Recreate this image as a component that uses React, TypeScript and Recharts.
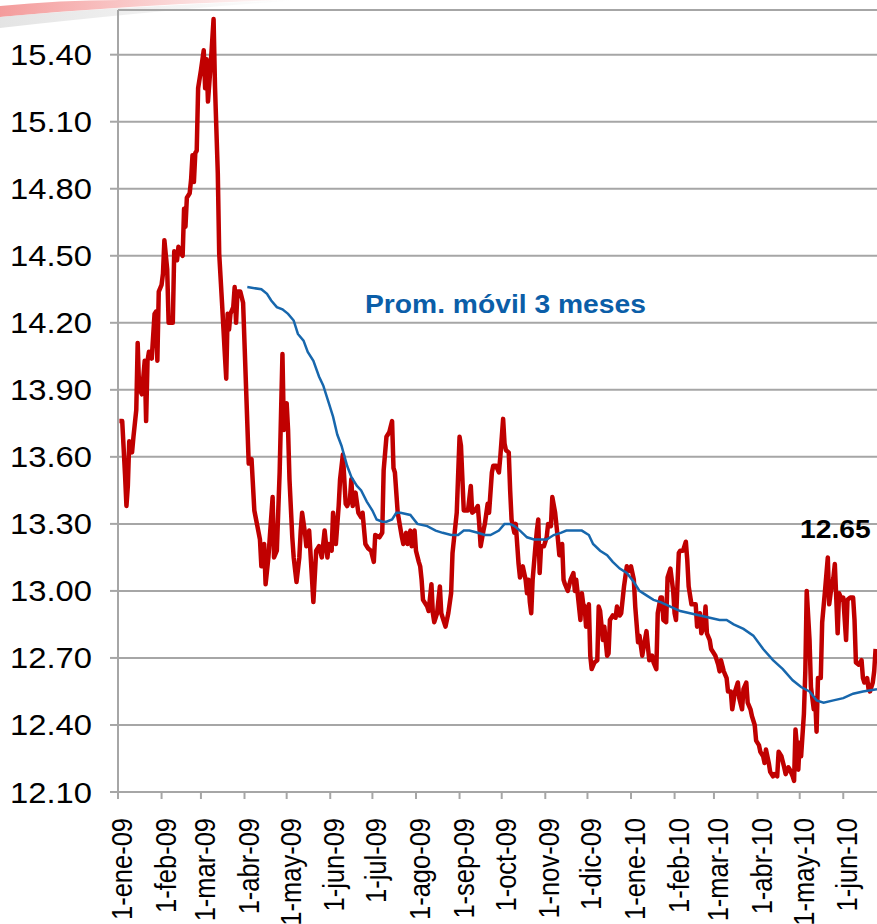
import React from 'react';
import { LineChart, Line, XAxis, YAxis, CartesianGrid } from 'recharts';

// días desde el 1-ene-09 y valor del tipo de cambio
const spotDays = [
  1, 3, 5, 6, 7, 8, 10, 11, 13, 14, 15, 17, 19, 20, 21, 22, 24, 26, 27, 28, 29, 31, 32, 33, 35, 36, 39, 40,
  42, 43, 45, 46, 47, 48, 49, 51, 52, 53, 54, 55, 56, 57, 59, 61, 62, 63, 64, 66, 68, 69, 71, 72, 74, 76, 77,
  78, 79, 80, 82, 83, 84, 85, 87, 89, 93, 95, 97, 101, 102, 104, 105, 107, 110, 111, 113, 115, 117, 118, 120,
  121, 122, 124, 125, 127, 129, 130, 131, 133, 134, 136, 139, 141, 143, 145, 147, 149, 150, 152, 153, 155,
  157, 158, 160, 162, 163, 165, 166, 167, 169, 171, 173, 174, 176, 178, 180, 182, 183, 186, 188, 189, 191,
  193, 195, 196, 197, 199, 202, 203, 205, 206, 208, 209, 211, 212, 214, 215, 216, 217, 220, 221, 223, 224,
  225, 227, 229, 230, 231, 233, 235, 237, 238, 240, 241, 243, 244, 246, 249, 251, 252, 254, 256, 257, 258,
  260, 261, 263, 264, 266, 267, 269, 271, 272, 274, 275, 276, 278, 279, 280, 282, 283, 285, 286, 288, 290,
  291, 292, 293, 294, 295, 297, 298, 299, 300, 301, 303, 305, 306, 308, 309, 311, 312, 313, 314, 316, 317,
  318, 320, 322, 324, 325, 326, 327, 329, 330, 331, 332, 333, 335, 336, 337, 339, 341, 342, 343, 345, 346,
  348, 349, 350, 352, 354, 355, 357, 358, 360, 362, 364, 365, 367, 368, 370, 371, 373, 374, 376, 377, 378,
  380, 381, 383, 384, 386, 387, 388, 390, 391, 393, 395, 396, 397, 399, 400, 402, 404, 405, 406, 408, 409,
  411, 412, 414, 415, 417, 418, 419, 421, 422, 424, 425, 427, 428, 429, 431, 433, 434, 436, 437, 439, 441,
  442, 444, 445, 447, 448, 450, 451, 453, 454, 456, 457, 459, 460, 461, 463, 464, 466, 467, 469, 470, 472,
  474, 475, 477, 478, 480, 481, 482, 483, 484, 485, 486, 488, 489, 490, 492, 493, 495, 496, 497, 498, 500,
  501, 503, 505, 506, 507, 509, 510, 511, 512, 513, 515, 516, 518, 519, 521, 523, 524, 525, 527, 529, 530,
  531, 533, 534, 535, 537, 538, 539,
];
const spotValues = [
  13.76, 13.76, 13.52, 13.38, 13.47, 13.67, 13.62, 13.69, 13.81, 14.11, 13.91, 13.88, 14.03, 13.76, 14.03,
  14.07, 14.04, 14.24, 14.25, 14.03, 14.34, 14.37, 14.42, 14.57, 14.44, 14.2, 14.2, 14.52, 14.48, 14.54,
  14.51, 14.5, 14.71, 14.63, 14.76, 14.78, 14.84, 14.95, 14.83, 14.96, 14.97, 15.25, 15.33, 15.42, 15.25,
  15.38, 15.19, 15.36, 15.56, 15.26, 14.87, 14.51, 14.29, 14.06, 13.95, 14.24, 14.17, 14.24, 14.27, 14.36,
  14.2, 14.34, 14.34, 14.29, 13.57, 13.59, 13.36, 13.23, 13.11, 13.21, 13.03, 13.15, 13.42, 13.15, 13.18,
  13.53, 14.06, 13.72, 13.84, 13.72, 13.5, 13.24, 13.15, 13.04, 13.15, 13.27, 13.35, 13.26, 13.2, 13.27,
  12.95, 13.18, 13.2, 13.15, 13.27, 13.15, 13.21, 13.18, 13.35, 13.21, 13.38, 13.5, 13.61, 13.39, 13.38,
  13.41, 13.5, 13.38, 13.44, 13.35, 13.33, 13.35, 13.21, 13.19, 13.18, 13.13, 13.25, 13.24, 13.26, 13.54,
  13.69, 13.71, 13.76, 13.55, 13.53, 13.35, 13.24, 13.21, 13.26, 13.21, 13.27, 13.2, 13.27, 13.18, 13.13,
  13.11, 13.05, 12.96, 12.93, 12.91, 13.03, 12.9, 12.86, 12.9, 13.02, 12.9, 12.88, 12.84, 12.9, 12.99,
  13.17, 13.29, 13.35, 13.69, 13.65, 13.36, 13.36, 13.47, 13.35, 13.36, 13.38, 13.3, 13.2, 13.27, 13.3,
  13.39, 13.35, 13.53, 13.56, 13.56, 13.53, 13.6, 13.77, 13.66, 13.63, 13.62, 13.45, 13.32, 13.26, 13.3,
  13.12, 13.06, 13.11, 13.05, 12.99, 13.05, 12.95, 12.9, 13.05, 13.2, 13.27, 13.32, 13.08, 13.2, 13.2,
  13.24, 13.3, 13.29, 13.42, 13.35, 13.29, 13.23, 13.16, 13.21, 13.05, 13.03, 13.0, 13.05, 13.08, 13.0,
  13.05, 12.99, 12.87, 12.99, 12.94, 12.93, 12.84, 12.94, 12.71, 12.65, 12.68, 12.69, 12.93, 12.91, 12.78,
  12.84, 12.71, 12.72, 12.87, 12.89, 12.88, 12.93, 12.89, 12.9, 13.02, 13.11, 13.09, 13.11, 13.05, 12.93,
  12.77, 12.8, 12.71, 12.75, 12.82, 12.75, 12.69, 12.71, 12.68, 12.65, 12.9, 12.97, 12.97, 12.87, 12.86,
  13.06, 13.1, 13.0, 12.9, 12.87, 13.17, 13.18, 13.18, 13.22, 13.14, 13.02, 12.94, 12.94, 12.94, 12.84,
  12.9, 12.81, 12.84, 12.93, 12.81, 12.78, 12.74, 12.72, 12.71, 12.67, 12.64, 12.69, 12.64, 12.61, 12.55,
  12.55, 12.47, 12.55, 12.59, 12.52, 12.47, 12.56, 12.59, 12.5, 12.47, 12.44, 12.4, 12.33, 12.31, 12.28,
  12.26, 12.23, 12.29, 12.23, 12.19, 12.17, 12.18, 12.17, 12.28, 12.26, 12.21, 12.18, 12.21, 12.2, 12.17,
  12.15, 12.38, 12.31, 12.2, 12.32, 12.26, 12.45, 12.64, 13.0, 12.78, 12.57, 12.47, 12.52, 12.37, 12.61,
  12.61, 12.86, 13.0, 13.15, 12.94, 12.99, 13.06, 13.12, 12.97, 12.81, 12.99, 12.96, 12.97, 12.78, 12.96,
  12.97, 12.97, 12.87, 12.68, 12.67, 12.69, 12.61, 12.59, 12.61, 12.56, 12.55, 12.59, 12.64, 12.74,
];

// promedio móvil de 3 meses
const maDays = [
  92, 102, 106, 109, 113, 117, 121, 125, 128, 132, 135, 139, 143, 146, 150, 153, 156, 159, 163, 166, 170,
  173, 177, 181, 184, 188, 191, 195, 198, 201, 208, 213, 220, 226, 231, 237, 242, 246, 250, 256, 261, 265,
  271, 275, 279, 282, 286, 291, 296, 300, 305, 310, 315, 319, 325, 330, 335, 338, 343, 348, 352, 357, 362,
  367, 371, 376, 381, 386, 393, 400, 407, 414, 421, 428, 433, 438, 445, 452, 459, 466, 473, 480, 486, 492,
  497, 502, 509, 516, 523, 530, 540,
];
const maValues = [
  14.36, 14.35, 14.33, 14.3, 14.27, 14.26, 14.24, 14.21, 14.15, 14.12, 14.07, 14.03, 13.96, 13.92, 13.84,
  13.78, 13.7, 13.65, 13.56, 13.51, 13.47, 13.45, 13.4, 13.36, 13.32, 13.31, 13.31, 13.32, 13.35, 13.35,
  13.34, 13.3, 13.29, 13.27, 13.26, 13.25, 13.25, 13.27, 13.27, 13.26, 13.25, 13.25, 13.27, 13.3, 13.3,
  13.29, 13.27, 13.24, 13.23, 13.23, 13.23, 13.25, 13.26, 13.27, 13.27, 13.27, 13.25, 13.21, 13.18, 13.16,
  13.13, 13.1, 13.08, 13.04, 13.0, 12.98, 12.96, 12.95, 12.93, 12.91, 12.9, 12.89, 12.88, 12.87, 12.87,
  12.85, 12.83, 12.8, 12.74, 12.69, 12.65, 12.6, 12.57, 12.55, 12.51, 12.5, 12.51, 12.52, 12.54, 12.55,
  12.56,
];

const yTicks = [12.1, 12.4, 12.7, 13.0, 13.3, 13.6, 13.9, 14.2, 14.5, 14.8, 15.1, 15.4];
const monthNames = ['ene', 'feb', 'mar', 'abr', 'may', 'jun', 'jul', 'ago', 'sep', 'oct', 'nov', 'dic'];
const monthStarts = [
  [2009, 0], [2009, 1], [2009, 2], [2009, 3], [2009, 4], [2009, 5], [2009, 6], [2009, 7], [2009, 8],
  [2009, 9], [2009, 10], [2009, 11], [2010, 0], [2010, 1], [2010, 2], [2010, 3], [2010, 4], [2010, 5],
];

const DAY = 86400000;
const origin = Date.UTC(2009, 0, 1);
const xTicks = monthStarts.map(([y, m]) => (Date.UTC(y, m, 1) - origin) / DAY);
const xLabel = (d: number) => {
  const dt = new Date(origin + d * DAY);
  return `1-${monthNames[dt.getUTCMonth()]}-${String(dt.getUTCFullYear()).slice(2)}`;
};

const spotData = spotDays.map((d, i) => ({ day: d, value: spotValues[i] }));
const maData = maDays.map((d, i) => ({ day: d, value: maValues[i] }));

const FONT = '"Liberation Sans", Arial, sans-serif';
const GRID = '#a6a6a6';

const YTick = (props: any) => {
  const { x, y, payload } = props;
  return (
    <text transform={`translate(${x},${y + 10.5}) scale(1.13,1)`} textAnchor="end" fontSize={29} fontFamily={FONT} fill="#000">
      {payload.value.toFixed(2)}
    </text>
  );
};

const XTick = (props: any) => {
  const { x, y, payload } = props;
  return (
    <text transform={`translate(${x + 14},${y + 17}) scale(1.13,1) rotate(-90)`} textAnchor="end" fontSize={25.5} fontFamily={FONT} fill="#000">
      {xLabel(payload.value)}
    </text>
  );
};

export default function App() {
  return (
    <div style={{ position: 'absolute', left: 0, top: 0, width: 877, height: 924, overflow: 'hidden', background: '#fff' }}>
      <svg width={877} height={924} style={{ position: 'absolute', left: 0, top: 0 }}>
        <defs>
          <linearGradient id="swoosh" x1="0" y1="0" x2="1" y2="0">
            <stop offset="0%" stopColor="#f07a7a" stopOpacity={0.75} />
            <stop offset="100%" stopColor="#f07a7a" stopOpacity={0} />
          </linearGradient>
          <linearGradient id="swoosh2" x1="0" y1="0" x2="1" y2="0">
            <stop offset="0%" stopColor="#d8d8d8" stopOpacity={0.7} />
            <stop offset="100%" stopColor="#d8d8d8" stopOpacity={0} />
          </linearGradient>
        </defs>
        <path d="M0,6 Q60,0 120,0 L290,0 Q140,4 0,17 Z" fill="url(#swoosh)" />
        <path d="M0,17 Q120,6 300,0 Q160,10 0,28 Z" fill="url(#swoosh2)" />
      </svg>
      <div style={{ position: 'absolute', left: 0, top: 0 }}>
        <LineChart width={877} height={924} margin={{ top: 10, right: 0, bottom: 0, left: 0 }}>
          <CartesianGrid vertical={false} stroke={GRID} strokeWidth={2} />
          <XAxis
            type="number"
            dataKey="day"
            domain={[0, 540]}
            ticks={xTicks}
            interval={0}
            height={132}
            tick={<XTick />}
            tickSize={7}
            tickMargin={2}
            axisLine={{ stroke: GRID, strokeWidth: 2 }}
            tickLine={{ stroke: GRID, strokeWidth: 2 }}
            allowDataOverflow
          />
          <YAxis
            type="number"
            domain={[12.1, 15.6]}
            ticks={yTicks}
            interval={0}
            width={118}
            tick={<YTick />}
            tickSize={8}
            tickMargin={18}
            axisLine={{ stroke: GRID, strokeWidth: 2 }}
            tickLine={{ stroke: GRID, strokeWidth: 2 }}
            allowDataOverflow
          />
          <Line data={spotData} dataKey="value" type="linear" stroke="#c00000" strokeWidth={4.5} dot={false} isAnimationActive={false} strokeLinejoin="round" />
          <Line data={maData} dataKey="value" type="linear" stroke="#1767ad" strokeWidth={2.5} dot={false} isAnimationActive={false} />
        </LineChart>
      </div>
      <svg width={877} height={924} style={{ position: 'absolute', left: 0, top: 0, pointerEvents: 'none' }}>
        <text transform="translate(365,313) scale(1.13,1)" fontSize={25} fontWeight="bold" fontFamily={FONT} fill="#0b5ea8">
          Prom. móvil 3 meses
        </text>
        <text transform="translate(800,538) scale(1.13,1)" fontSize={25} fontWeight="bold" fontFamily={FONT} fill="#000">
          12.65
        </text>
      </svg>
    </div>
  );
}
